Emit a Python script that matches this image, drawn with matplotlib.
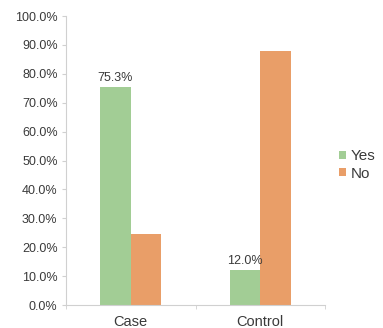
import numpy as np
from matplotlib import pyplot as plt

groups = ["Case", "Control"]
yes = [75.3, 12.0]
no = [24.7, 88.0]
series = ["Yes", "No"]

green = "#a2cd95"
orange = "#e99e68"
text_col = "#3a3a3a"
axis_col = "#d0d0d0"

plt.rcParams["font.family"] = ["Liberation Sans", "DejaVu Sans"]

fig = plt.figure(figsize=(3.83, 3.28), dpi=100)
ax = fig.add_axes([0.172, 0.070, 0.677, 0.881])

x = np.arange(len(groups))
w = 0.236
b1 = ax.bar(x - w / 2, yes, w, color=green, label=series[0])
b2 = ax.bar(x + w / 2, no, w, color=orange, label=series[1])

# value labels only on the "Yes" bars
for rect, v in zip(b1, yes):
    ax.text(rect.get_x() + rect.get_width() / 2, v + 1.2, "%.1f%%" % v,
            ha="center", va="bottom", fontsize=9, color=text_col)

ax.set_xlim(-0.5, 1.5)
ax.set_ylim(0, 100)
ax.set_yticks(np.arange(0, 101, 10))
ax.set_yticklabels(["%.1f%%" % t for t in np.arange(0, 101, 10)])
ax.set_xticks(x)
ax.set_xticklabels(groups)
ax.set_xticks([-0.5, 0.5, 1.5], minor=True)
ax.tick_params(axis="x", which="major", length=0, labelsize=10.5, colors=text_col, pad=7)
ax.tick_params(axis="x", which="minor", length=3, color=axis_col)
ax.tick_params(axis="y", length=3, color=axis_col, labelsize=9, labelcolor=text_col, pad=3)

for s in ["top", "right"]:
    ax.spines[s].set_visible(False)
ax.spines["left"].set_color(axis_col)
ax.spines["bottom"].set_color(axis_col)

leg = fig.legend(loc="center left", bbox_to_anchor=(0.885, 0.497), frameon=False,
                 fontsize=11, handlelength=0.45, handleheight=0.45, handletextpad=0.3,
                 labelspacing=0.2, borderaxespad=0, borderpad=0)
for t in leg.get_texts():
    t.set_color(text_col)

fig.savefig("out.png", dpi=100)
